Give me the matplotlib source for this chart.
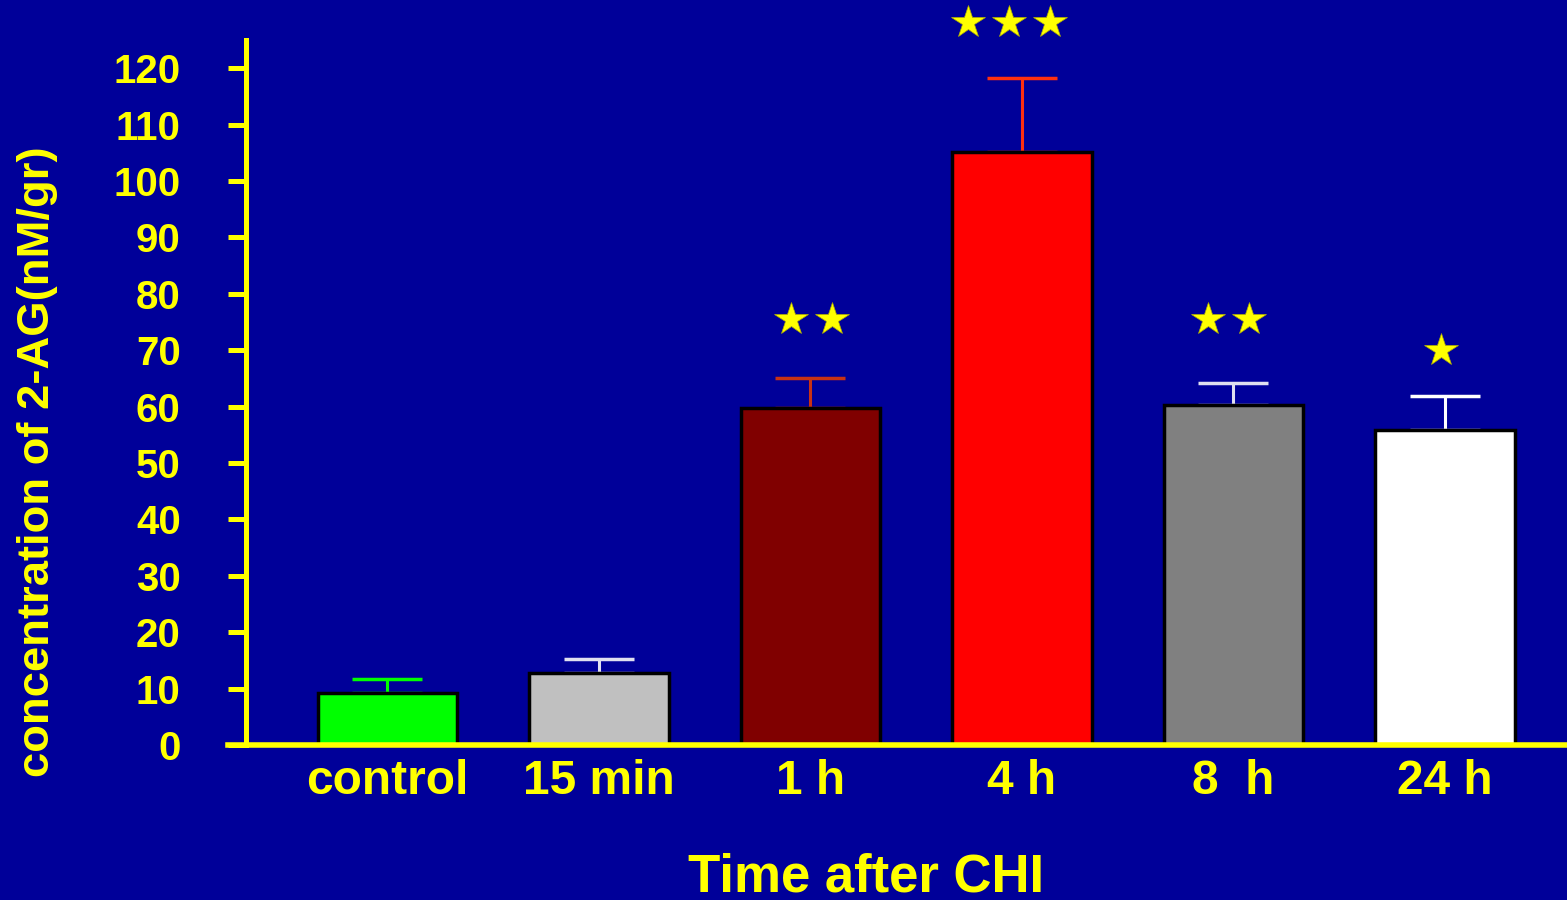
import numpy as np
import matplotlib.pyplot as plt

# 2-AG levels after closed head injury
groups = ['control', '15 min', '1 h', '4 h', '8  h', '24 h']
conc = [9.2, 12.7, 59.8, 105.1, 60.2, 55.9]
sem = [2.5, 2.6, 5.3, 13.1, 4.0, 6.0]
stars = [0, 0, 2, 3, 2, 1]
star_level = [0, 0, 75.6, 128.2, 75.5, 70.0]
star_shift = [0, 0, -0.09, -0.254, -0.12, -0.02]

bar_colors = ['#00ff00', '#c0c0c0', '#800000', '#ff0000', '#808080', '#ffffff']
err_colors = ['#00ff00', '#e0e0f0', '#c83214', '#ff3010', '#e0e0f0', '#ffffff']
bg = '#000099'
yellow = '#ffff00'

plt.rcParams['font.family'] = ['Liberation Sans', 'DejaVu Sans']
plt.rcParams['font.weight'] = 'bold'

fig = plt.figure(figsize=(15.67, 9), dpi=100, facecolor=bg)
ax = fig.add_axes([246 / 1567, 1 - 745 / 900, 1 - 246 / 1567, 705 / 900])
ax.set_facecolor(bg)

x = np.arange(len(groups))
for i in range(len(groups)):
    ax.errorbar(x[i], conc[i], yerr=[[0], [sem[i]]], fmt='none',
                ecolor=err_colors[i], elinewidth=2.2, capsize=25,
                capthick=2.5, zorder=2)
ax.bar(x, conc, width=0.658, color=bar_colors, edgecolor='black',
       linewidth=2.5, zorder=3)

# significance stars
for i in range(len(groups)):
    for k in range(stars[i]):
        ax.plot(x[i] + star_shift[i] + k * 0.193, star_level[i], marker='*',
                color=yellow, markersize=25, markeredgecolor='#b0b000',
                markeredgewidth=0.5, clip_on=False, zorder=4)

ax.set_xlim(-0.669, 5.577)
ax.set_ylim(0, 125)
ax.set_yticks(np.arange(0, 121, 10))
ax.set_xticks(x)
ax.set_xticklabels(groups)

for side in ['top', 'right', 'bottom']:
    ax.spines[side].set_visible(False)
ax.spines['left'].set_color(yellow)
ax.spines['left'].set_linewidth(3.6)
ax.axhline(0, xmin=-18 / 1321, xmax=1, color=yellow, linewidth=4,
           clip_on=False, zorder=5)

ax.tick_params(axis='y', colors=yellow, length=13, width=3.6, pad=34,
               labelsize=29)
ax.tick_params(axis='x', colors=yellow, length=0, pad=10, labelsize=34.5)
for lab in ax.get_xticklabels() + ax.get_yticklabels():
    lab.set_fontweight('bold')

fig.text(866 / 1567, 1 - 877 / 900, 'Time after CHI', color=yellow,
         fontsize=38, fontweight='bold', ha='center', va='center')
fig.text(38 / 1567, 1 - 462 / 900, 'concentration of 2-AG(nM/gr)',
         color=yellow, fontsize=32.7, fontweight='bold', rotation=90,
         ha='center', va='center')

fig.savefig('out.png', dpi=100, facecolor=bg)
